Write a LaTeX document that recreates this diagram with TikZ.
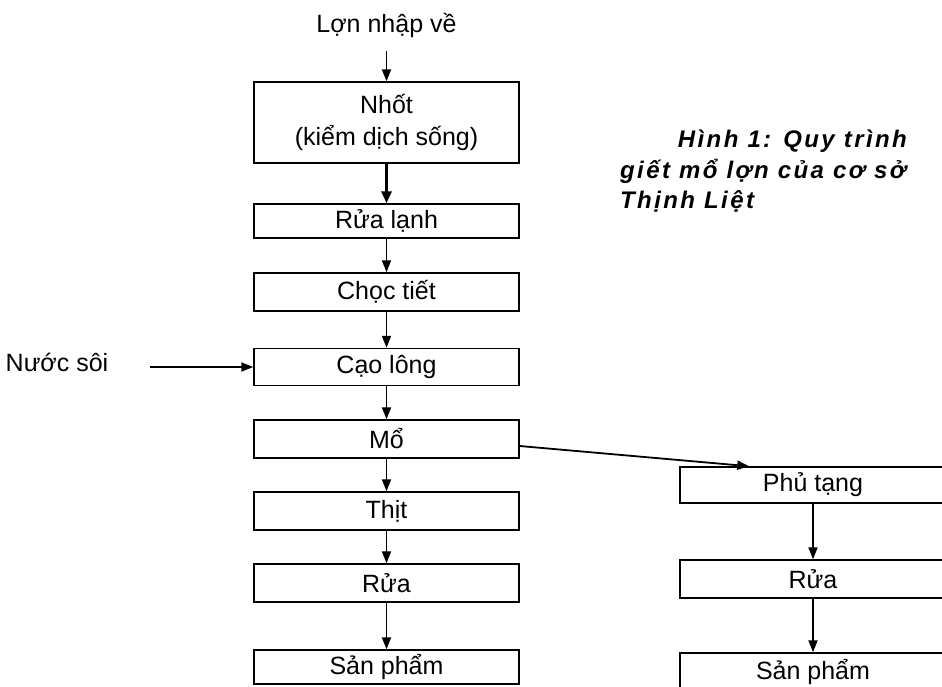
\documentclass[tikz,border=0pt]{standalone}
\usepackage{fontspec}
\setmainfont{Liberation Sans}
\newfontfamily\capfont[LetterSpace=10]{Liberation Sans}
\usetikzlibrary{arrows.meta}
\begin{document}
\begin{tikzpicture}[x=1pt,y=-1pt,
  box/.style={draw, line width=1.5pt, minimum width=265pt, minimum height=38pt, inner sep=0pt,
    font=\fontsize{25}{32}\selectfont, align=center},
  arr/.style={line width=1.8pt, -{Triangle[length=12pt,width=9pt]}},
  thickarr/.style={line width=3pt, -{Triangle[length=12pt,width=10pt]}},
  lbl/.style={font=\fontsize{25}{28}\selectfont, inner sep=0pt},
  capstyle/.style={font=\capfont\bfseries\itshape\fontsize{24}{28}\selectfont, inner sep=0pt}]
\useasboundingbox (0,0) rectangle (942,686);
% left column
\node[lbl] (lon) at (386.5,25) {Lợn nhập về};
\node[box, minimum height=81pt] (nhot) at (386.5,122.5) {Nhốt\\(kiểm dịch sống)};
\node[box, minimum height=34pt] (rualanh) at (386.5,221) {Rửa lạnh};
\node[box] (choc) at (386.5,292) {Chọc tiết};
\node[box, minimum height=37pt] (cao) at (386.5,367) {Cạo lông};
\node[box] (mo) at (386.5,439) {Mổ};
\node[box] (thit) at (386.5,511) {Thịt};
\node[box] (rua) at (386.5,583) {Rửa};
\node[box, minimum height=34pt] (sp) at (386.5,667) {Sản phẩm};
% right column
\node[box, minimum width=266pt, minimum height=36pt] (phu) at (813,485) {Phủ tạng};
\node[box, minimum width=266pt] (rua2) at (813,579) {Rửa};
\node[box, minimum width=266pt] (sp2) at (813,672) {Sản phẩm};
% side input
\node[lbl] (nuoc) at (57,362) {Nước sôi};
\coordinate (ns) at (150,367);
% caption
\node[capstyle, anchor=base east] (c1) at (907,147) {Hình 1: Quy trình};
\node[capstyle, anchor=base west] (c2) at (620,178) {giết mổ lợn của cơ sở};
\node[capstyle, anchor=base west] (c3) at (620,208) {Thịnh Liệt};
% connectors
\draw[arr, shorten <=14pt] (lon.south) -- (nhot.north);
\draw[thickarr] (nhot.south) -- (rualanh.north);
\draw[arr] (rualanh.south) -- (choc.north);
\draw[arr] (choc.south) -- (cao.north);
\draw[arr] (cao.south) -- (mo.north);
\draw[arr] (mo.south) -- (thit.north);
\draw[arr] (thit.south) -- (rua.north);
\draw[arr] (rua.south) -- (sp.north);
\draw[arr] (ns) -- (cao.west);
\draw[arr] ([yshift=-7pt]mo.east) -- ([xshift=70pt]phu.north west);
\draw[arr] (phu.south) -- (rua2.north);
\draw[arr] (rua2.south) -- (sp2.north);
\end{tikzpicture}
\end{document}
